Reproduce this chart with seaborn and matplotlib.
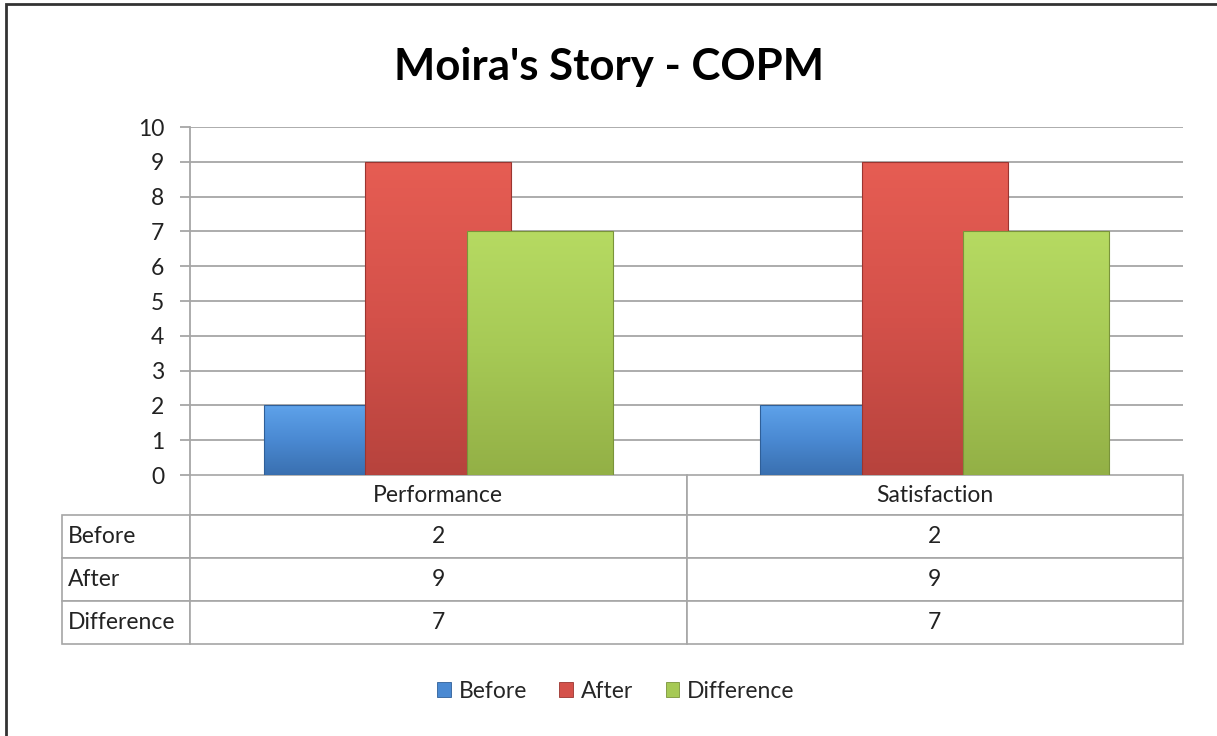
import numpy as np
import pandas as pd
import matplotlib
matplotlib.use("Agg")
import matplotlib.pyplot as plt
import seaborn as sns
from matplotlib.patches import Patch, Rectangle
from matplotlib.lines import Line2D

categories = ["Performance", "Satisfaction"]
series = ["Before", "After", "Difference"]
before = [2, 2]
after = [9, 9]
difference = [7, 7]
yticks = list(range(0, 11))
title = "Moira's Story - COPM"

colors_mid = {"Before": "#4A89D2", "After": "#D4514A", "Difference": "#A6C955"}
colors_top = {"Before": "#5EA2EA", "After": "#E65D53", "Difference": "#B6DA62"}
colors_bot = {"Before": "#3A70B0", "After": "#B7433D", "Difference": "#93B046"}
colors_edge = {"Before": "#2F5F98", "After": "#9B3530", "Difference": "#7A943A"}

df = pd.DataFrame({
    "category": categories * 3,
    "series": ["Before"] * 2 + ["After"] * 2 + ["Difference"] * 2,
    "value": before + after + difference,
})

sns.set_theme(style="white")
plt.rcParams["font.family"] = ["Lato", "DejaVu Sans"]

W, H = 1217, 736
AX_W, AX_H = 993, 348
fig = plt.figure(figsize=(W / 100, H / 100), dpi=100)
ax = fig.add_axes([190 / W, (H - 475) / H, AX_W / W, AX_H / H])

sns.barplot(data=df, x="category", y="value", hue="series", order=categories,
            hue_order=series, palette=colors_mid, width=0.614, dodge=True,
            legend=False, ax=ax, saturation=1, errorbar=None)

bar_w = 0.294
ylim = (0, 10)
for i, p in enumerate(ax.patches):
    s = series[i // len(categories)]
    cx = p.get_x() + p.get_width() / 2
    p.set_x(cx - bar_w / 2)
    p.set_width(bar_w)
    p.set_edgecolor(colors_edge[s])
    p.set_linewidth(0.8)
    z = 2 + i // len(categories)
    x0, y0 = p.get_x(), p.get_y()
    h = p.get_height()
    cmap = matplotlib.colors.LinearSegmentedColormap.from_list(
        s, [colors_bot[s], colors_mid[s], colors_top[s]])
    grad = np.linspace(0, 1, 128).reshape(-1, 1)
    im = ax.imshow(grad, extent=(x0, x0 + bar_w, y0, y0 + h), origin="lower",
                   aspect="auto", cmap=cmap, zorder=z + 0.01)
    im.set_clip_path(p)
    p.set_facecolor("none")
    p.set_zorder(z + 0.02)
    ax.add_line(Line2D([x0 + 0.008, x0 + bar_w - 0.008], [y0 + h - 0.06] * 2,
                       color=colors_top[s], lw=2, alpha=0.6, zorder=z + 0.015))

ax.set_xlim(-0.5, 1.5)
ax.set_ylim(*ylim)
ax.set_yticks(yticks)
ax.set_yticklabels([str(t) for t in yticks], fontsize=16.5, color="#222222")
ax.set_xticks([])
ax.set_xlabel("")
ax.set_ylabel("")
for t in yticks[1:]:
    ax.axhline(t, color="#A6A6A6", lw=1.3, zorder=1)
for sp in ["top", "right", "bottom"]:
    ax.spines[sp].set_visible(False)
ax.spines["left"].set_color("#A6A6A6")
ax.spines["left"].set_linewidth(1.3)
ax.tick_params(axis="y", left=True, length=7, width=1.3, color="#A6A6A6", pad=11.5)

# data table: first column holds the series names
values = [before, after, difference]
cell_text = [[name] + [str(v) for v in vals] for name, vals in zip(series, values)]
hdr_h, row_h = 40 / AX_H, 43 / AX_H
lab_w, col_w = 128 / AX_W, 496.5 / AX_W
tot_h = hdr_h + 3 * row_h
tbl = ax.table(cellText=cell_text, colLabels=[""] + categories,
               cellLoc="center", colLoc="center",
               bbox=[-lab_w, -tot_h, lab_w + 2 * col_w, tot_h])
tbl.auto_set_font_size(False)
for (r, c), cell in tbl.get_celld().items():
    cell.set_edgecolor("#A6A6A6")
    cell.set_linewidth(1.2)
    cell.get_text().set_fontsize(16.5)
    cell.get_text().set_color("#222222")
    cell.set_width(lab_w if c == 0 else col_w)
    cell.set_height(hdr_h if r == 0 else row_h)
    if c == 0:
        cell.PAD = 0.045
        cell.get_text().set_ha("left")
        if r == 0:
            cell.visible_edges = "open"

fig.text(0.5, (H - 67) / H, title, ha="center", va="center", fontsize=31.5,
         fontweight="bold", color="#000000")

handles = [Patch(facecolor=colors_mid[s], edgecolor=colors_edge[s], lw=0.6) for s in series]
fig.legend(handles, series, loc="center", bbox_to_anchor=(616 / W, (H - 691) / H),
           ncol=3, frameon=False, fontsize=16.5, handlelength=0.6, handleheight=0.6,
           handletextpad=0.35, columnspacing=1.4)

fig.patches.append(Rectangle((6 / W, -0.1), 1.2, (H - 4) / H + 0.1, transform=fig.transFigure,
                             fill=False, edgecolor="#333333", lw=2))

fig.savefig("out.png", dpi=100, facecolor="white")
